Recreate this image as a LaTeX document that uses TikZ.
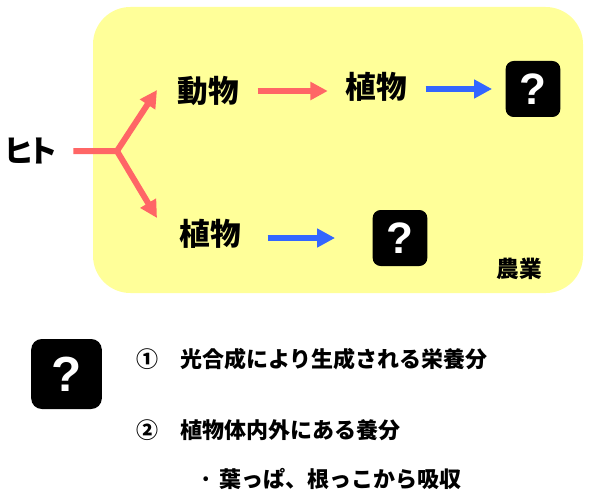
\documentclass[tikz,border=0pt]{standalone}
\usepackage{fontspec}
\newfontfamily\jpfont{Noto Sans CJK JP}
\newfontfamily\qmfont{Liberation Sans}
\usetikzlibrary{arrows.meta}
\definecolor{farmyellow}{RGB}{255,255,153}
\definecolor{flowred}{RGB}{255,102,102}
\definecolor{flowblue}{RGB}{51,102,255}
\tikzset{
  word/.style={font=\jpfont\bfseries\fontsize{23pt}{27pt}\selectfont, inner sep=0pt},
  note/.style={font=\jpfont\bfseries\fontsize{16.5pt}{20pt}\selectfont, inner sep=0pt, anchor=west},
  qbox/.style={fill=black, rounded corners=6pt, minimum width=41pt, minimum height=42pt,
    inner sep=0pt, text=white, font=\qmfont\bfseries\fontsize{33pt}{33pt}\selectfont},
  redflow/.style={draw=flowred, line width=4.5pt, -{Triangle[length=13pt,width=13pt]}},
  blueflow/.style={draw=flowblue, line width=4.5pt, -{Triangle[length=13.5pt,width=13.5pt]}}
}
\begin{document}
\begin{tikzpicture}[x=0.75pt,y=-0.75pt]
  \useasboundingbox (0,0) rectangle (591,499);
  % farming area
  \fill[farmyellow, rounded corners=28pt] (93,7) rectangle (583,293);

  \node[word] (hito) at (31,151) {ヒ\kern-5pt ト};
  \node[word] (animal) at (208,91) {動物};
  \node[word] (plant1) at (376,87) {植物};
  \node[word] (plant2) at (210,234) {植物};
  \node[qbox] (q1) at (533,89) {?};
  \node[qbox] (q2) at (400,238) {?};
  \node[font=\jpfont\bfseries\fontsize{17pt}{20pt}\selectfont, inner sep=0pt] (farm) at (519,269) {農業};

  \coordinate (fork) at (117,151);
  \coordinate (upend) at (157,90);
  \coordinate (downend) at (157,218);

  \draw[redflow, line join=miter] ([xshift=11pt]hito.east) -- (fork) -- (upend);
  \draw[redflow] (fork) -- (downend);
  \draw[redflow, shorten <=14pt, shorten >=13pt] (animal.east) -- (animal.east -| plant1.west);
  \draw[blueflow, shorten <=14pt, shorten >=10pt] (plant1.east |- q1.west) -- (q1.west);
  \draw[blueflow, shorten <=20pt, shorten >=28pt] (plant2.east |- q2.west) -- (q2.west);

  % legend
  \node[qbox, minimum width=53pt, minimum height=52.5pt, rounded corners=8pt,
    font=\qmfont\bfseries\fontsize{37pt}{37pt}\selectfont] (qkey) at (66.5,374) {?};
  \node[note] (item1) at (136,359) {①　光合成により生成される栄養分};
  \node[note] (item2) at (136,430) {②　植物体内外にある養分};
  \node[note] (item3) at (199,479) {·\hspace{5pt}葉っぱ、根っこから吸収};
\end{tikzpicture}
\end{document}
